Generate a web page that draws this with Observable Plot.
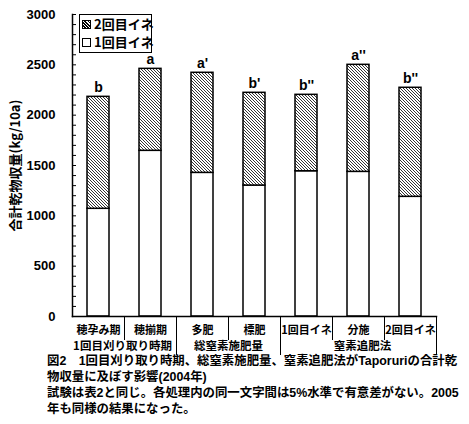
<!DOCTYPE html>
<html><head><meta charset="utf-8">
<script src="https://cdn.jsdelivr.net/npm/d3@7"></script>
<script src="https://cdn.jsdelivr.net/npm/@observablehq/plot@0.6"></script>
<style>
body{margin:0;background:#fff;}
#wrap{position:relative;width:469px;height:424px;overflow:hidden;font-family:"Noto Sans CJK JP",sans-serif;color:#000;}
#chart svg{display:block;}
#legend{position:absolute;left:79px;top:14px;width:71px;height:37px;border:1.5px solid #000;background:#fff;font-weight:bold;font-size:13px;}
#legend .row{position:absolute;left:2px;height:18px;line-height:18px;white-space:nowrap;}
#legend .sw{display:inline-block;width:7px;height:7px;border:1px solid #000;vertical-align:middle;margin-right:3px;position:relative;top:-1px;}
#caption{position:absolute;left:47px;top:353px;font-family:"Liberation Sans","Noto Sans CJK JP",sans-serif;font-size:12.4px;font-weight:bold;line-height:16px;white-space:nowrap;}
</style></head>
<body>
<div id="wrap">
  <div id="chart"></div>
  <div id="legend"></div>
  <div id="caption"></div>
</div>
<script>
const categories = ["穂孕み期","穂揃期","多肥","標肥","1回目イネ","分施","2回目イネ"];
const groupLabels = ["1回目刈り取り時期","総窒素施肥量","窒素追肥法"];
const groupAnchors = ["穂孕み期","多肥","分施"];
const series = ["1回目イネ","2回目イネ"];
const firstCrop = [1070,1646,1427,1301,1443,1437,1189];
const secondCrop = [1112,814,994,921,759,1063,1083];
const letters = ["b","a","a'","b'","b''","a''","b''"];
const yTicks = [0,500,1000,1500,2000,2500,3000];
const yMinorTicks = d3.range(0,3001,100);
const innerDividers = ["穂孕み期","多肥","1回目イネ","分施"];
const groupDividers = ["穂揃期","標肥","2回目イネ"];
const yLabel = "合計乾物収量(kg/10a)";
const captionLines = [
  "図2　1回目刈り取り時期、総窒素施肥量、窒素追肥法がTaporuriの合計乾",
  "物収量に及ぼす影響(2004年)",
  "試験は表2と同じ。各処理内の同一文字間は5%水準で有意差がない。2005",
  "年も同様の結果になった。"
];

const table = [];
categories.forEach((c,i)=>{
  table.push({cat:c, series:series[0], value:firstCrop[i]});
  table.push({cat:c, series:series[1], value:secondCrop[i]});
});
const totals = categories.map((c,i)=>({cat:c, total:firstCrop[i]+secondCrop[i], letter:letters[i]}));
const groups = groupLabels.map((g,i)=>({label:g, cat:groupAnchors[i]}));

const numFont = "'Liberation Sans', Arial, sans-serif";

const chart = Plot.plot({
  width:469, height:356, marginLeft:72, marginRight:33, marginTop:14, marginBottom:40,
  style:{fontFamily:"'Noto Sans CJK JP', sans-serif", background:"white", color:"black", overflow:"visible"},
  x:{domain:categories, padding:0, axis:null},
  y:{domain:[0,3000], axis:null},
  color:{domain:series, range:["white","url(#hatch)"]},
  marks:[
    Plot.barY(table, {x:"cat", y:"value", fill:"series", stroke:"black", strokeWidth:1.5, insetLeft:15, insetRight:15}),
    Plot.text(totals, {x:"cat", y:"total", text:"letter", dy:-5, lineAnchor:"bottom", fontWeight:"bold", fontSize:14, fontFamily:numFont}),
    Plot.frame({anchor:"left", strokeWidth:1.5}),
    Plot.frame({anchor:"bottom", strokeWidth:1.5}),
    Plot.axisY({ticks:yTicks, tickSize:0, tickPadding:17, tickFormat:d3.format("d"), fontSize:13, fontWeight:"bold", fontFamily:numFont, label:null}),
    Plot.axisY({ticks:yMinorTicks, tickSize:-4, text:null, label:null}),
    Plot.axisX({tickSize:0, tickPadding:10, fontSize:11, fontWeight:"bold", label:null}),
    Plot.axisX({ticks:innerDividers, tickSize:24, text:null, label:null, dx:26}),
    Plot.axisX({ticks:groupDividers, tickSize:39, text:null, label:null, dx:26}),
    ...groups.map((g,i)=>Plot.text([g], {x:"cat", text:"label", frameAnchor:"bottom", lineAnchor:"middle", dy:30, dx:[24,26,4][i], fontSize:11.5, fontWeight:"bold"})),
    Plot.text([yLabel], {text:d=>d, frameAnchor:"left", textAnchor:"middle", lineAnchor:"middle", dx:-57, rotate:-90, fontSize:13, fontWeight:"bold"})
  ]
});

const defs = d3.select(chart).insert("defs", ":first-child");
const pat = defs.append("pattern").attr("id","hatch").attr("patternUnits","userSpaceOnUse").attr("width",3).attr("height",3);
pat.append("rect").attr("width",3).attr("height",3).attr("fill","white");
pat.append("path").attr("d","M-1,2 l2,2 M0,0 l3,3 M2,-1 l2,2").attr("stroke","black").attr("stroke-width",0.8);
document.getElementById("chart").appendChild(chart);

// legend
const leg = d3.select("#legend");
[series[1], series[0]].forEach((s,i)=>{
  const row = leg.append("div").attr("class","row").style("top",(i===0?0:18)+"px");
  const sw = row.append("span").attr("class","sw");
  if (s===series[1]) {
    sw.style("background","repeating-linear-gradient(45deg,#fff 0px,#fff 1.2px,#000 1.2px,#000 2.2px)");
  }
  row.append("span").text(s);
});

document.getElementById("caption").innerHTML = captionLines.map(l=>l.replace(/&/g,"&amp;")).join("<br>");
</script>
</body></html>
